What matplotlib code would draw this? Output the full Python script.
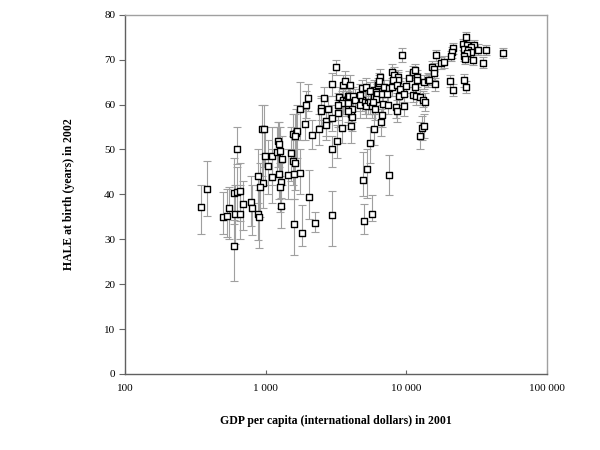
import numpy as np
import matplotlib
matplotlib.use("Agg")
import matplotlib.pyplot as plt
from matplotlib.ticker import FixedLocator, NullLocator

# GDP per capita (international dollars, 2001), HALE at birth 2002 and its uncertainty range
gdp = [345, 381, 500, 528, 551, 598, 628, 653, 603, 660,
       598, 628, 693, 791, 804, 887, 902, 887, 958, 917,
       942, 973, 989, 1039, 1110, 1115, 1230, 1240, 1205, 1265,
       1313, 1245, 1285, 1271, 1285, 1435, 1503, 1553, 1625, 1565,
       1634, 1663, 1625, 1600, 1745, 1745, 1581, 1820, 2042, 2259,
       2976,
       1936, 2011, 1918, 2148, 2377, 2485, 2470, 2612, 2773, 2685,
       2705, 2976, 3177, 2976, 3213, 3283, 3337, 3505, 3563, 3690,
       3573, 3724, 3474, 3268, 3844, 3844, 2964, 4006, 3942, 4177,
       4315, 4043, 4111, 4130, 3879, 4055, 3866, 4864,
       4688, 4688, 4864, 5164, 5082, 5297, 5164, 5521, 5677, 5894,
       5495, 5861, 6086, 6151, 6340, 6400, 6501, 6427, 6053, 5821,
       5957, 6683, 6577, 5861, 5546, 5284, 4955, 5003, 5698, 7498,
       6683, 6973, 7533, 7325, 6823, 7443, 7852, 8210, 8770, 8790,
       8000, 7870, 8590, 9020, 8870, 8510, 8590, 9270, 9620, 9660,
       9990, 10390, 11150, 11520, 11970, 12000, 11430, 11090, 11770, 12570,
       13030, 13570, 13420, 14330, 12820, 13420, 12420,
       15310, 15820, 15750, 16340, 16070, 17730, 18620, 20540, 21470, 21470,
       21230, 20770, 25700, 26670, 26550, 25400, 26800, 30130, 28840, 25820,
       27310, 28680, 32310, 36610, 48260, 26990, 25820, 26000, 29920, 34870,
       14560]

hale = [37.1, 41.1, 34.9, 35.1, 36.9, 40.4, 40.5, 40.7, 35.6, 35.6,
        28.5, 50.1, 37.9, 38.2, 36.9, 35.6, 34.9, 44.0, 42.6, 41.6,
        54.5, 54.5, 48.6, 46.3, 48.6, 43.8, 51.8, 51.2, 49.4, 49.6,
        47.9, 44.6, 42.8, 41.6, 37.3, 44.4, 49.2, 47.5, 47.0, 53.5,
        53.7, 54.1, 52.9, 44.6, 44.8, 59.0, 33.3, 31.4, 39.5, 33.6,
        35.3,
        59.9, 61.4, 55.6, 53.2, 54.5, 59.3, 58.5, 61.4, 58.9, 56.4,
        55.4, 64.5, 68.4, 50.2, 51.8, 58.2, 61.6, 54.8, 64.4, 65.2,
        60.9, 60.7, 60.3, 59.8, 61.9, 58.9, 57.0, 64.3, 62.0, 61.8,
        61.0, 57.8, 57.3, 58.9, 58.6, 55.2, 60.3, 61.0,
        62.2, 59.8, 63.6, 63.9, 60.6, 60.4, 59.6, 60.5, 59.6, 63.2,
        63.0, 61.6, 62.7, 62.4, 64.3, 64.8, 66.2, 65.3, 61.2, 60.5,
        59.0, 57.6, 56.1, 54.5, 51.4, 45.6, 43.3, 34.1, 35.6, 44.4,
        62.4, 63.8, 63.7, 62.4, 60.1, 59.9, 67.3, 66.6, 66.1, 65.5,
        65.5, 63.9, 64.3, 63.4, 61.9, 59.5, 58.6, 71.0, 62.4, 59.7,
        64.2, 65.8, 67.3, 67.6, 66.1, 65.4, 64.0, 62.1, 61.8, 61.7,
        61.1, 60.5, 65.0, 65.5, 54.8, 55.2, 53.0,
        68.4, 67.9, 67.0, 71.0, 64.5, 69.3, 69.5, 65.3, 63.3, 72.5,
        71.6, 70.8, 65.4, 63.9, 75.1, 73.4, 73.2, 73.3, 72.8, 72.4,
        72.1, 71.7, 72.2, 72.1, 71.4, 71.4, 70.8, 70.2, 69.9, 69.3,
        65.5]

hale_low = [31.1, 35.1, 31.1, 30.6, 30.1, 33.5, 35.0, 34.0, 29.0, 30.0,
            20.6, 46.7, 32.0, 33.0, 31.0, 29.8, 28.0, 38.0, 37.0, 35.0,
            44.0, 46.0, 42.0, 40.0, 42.0, 38.0, 46.0, 46.0, 44.0, 44.0,
            42.0, 39.0, 37.0, 36.0, 32.4, 39.0, 43.0, 42.0, 41.0, 48.0,
            48.0, 48.0, 47.0, 39.0, 40.0, 52.0, 26.4, 28.4, 34.5, 31.6,
            28.4,
            57.0, 58.5, 52.0, 50.0, 51.0, 56.5, 55.5, 58.5, 56.0, 53.0,
            52.0, 62.0, 66.5, 46.0, 48.0, 55.0, 59.0, 51.5, 62.0, 63.0,
            58.0, 58.0, 57.5, 56.5, 59.5, 56.0, 54.0, 62.0, 59.5, 59.5,
            58.5, 54.5, 54.0, 56.0, 55.5, 51.5, 57.5, 58.5,
            60.0, 57.0, 61.5, 62.0, 58.0, 58.0, 57.0, 58.0, 57.0, 61.0,
            61.0, 59.5, 60.5, 60.5, 62.5, 63.0, 64.5, 63.5, 59.0, 58.0,
            56.5, 55.0, 53.0, 51.0, 47.0, 39.1, 39.6, 31.1, 34.0, 39.9,
            60.5, 62.0, 62.0, 60.5, 58.0, 58.0, 65.5, 65.0, 64.5, 64.0,
            63.5, 62.0, 62.5, 61.5, 60.0, 57.0, 56.0, 69.5, 60.5, 57.5,
            62.5, 64.0, 66.0, 66.0, 64.5, 64.0, 62.5, 60.5, 60.0, 60.0,
            59.5, 58.5, 63.5, 64.0, 52.0, 52.5, 50.0,
            67.0, 66.5, 65.5, 69.8, 63.0, 68.0, 68.2, 64.0, 62.0, 71.3,
            70.4, 69.6, 64.0, 62.5, 74.0, 72.2, 72.0, 72.2, 71.7, 71.2,
            71.0, 70.6, 71.0, 71.0, 70.3, 70.2, 69.6, 69.0, 68.7, 68.1,
            64.3]

hale_high = [42.0, 47.4, 40.6, 41.2, 41.7, 48.0, 46.0, 47.0, 42.0, 42.0,
             34.3, 55.0, 43.0, 44.0, 42.0, 42.0, 41.0, 50.0, 49.0, 47.0,
             59.8, 60.0, 55.0, 52.0, 55.0, 50.0, 56.0, 56.0, 55.0, 55.0,
             53.0, 50.0, 48.0, 47.0, 39.1, 50.0, 55.0, 53.0, 52.0, 58.0,
             59.0, 60.0, 58.0, 50.0, 50.0, 65.0, 38.9, 37.6, 45.4, 36.0,
             40.8,
             63.0, 64.5, 59.0, 56.5, 58.0, 62.0, 61.5, 64.0, 62.0, 59.5,
             58.5, 67.0, 70.0, 53.0, 55.5, 61.0, 64.0, 58.0, 66.5, 67.5,
             63.5, 63.0, 63.0, 62.5, 64.0, 61.5, 60.0, 66.5, 64.5, 64.0,
             63.5, 61.0, 60.5, 61.5, 61.5, 58.5, 63.0, 63.5,
             64.5, 62.5, 65.5, 66.0, 63.0, 63.0, 62.0, 63.0, 62.0, 65.5,
             65.0, 64.0, 65.0, 64.5, 66.0, 66.5, 68.0, 67.0, 63.5, 63.0,
             61.5, 60.0, 59.0, 58.0, 55.0, 50.0, 49.5, 37.8, 39.8, 48.7,
             64.5, 65.5, 65.5, 64.5, 62.0, 62.0, 69.0, 68.3, 67.8, 67.2,
             67.5, 66.0, 66.0, 65.3, 64.0, 62.0, 61.0, 72.5, 64.5, 62.0,
             66.0, 67.5, 68.6, 69.0, 67.7, 67.0, 65.5, 63.8, 63.5, 63.5,
             63.0, 62.5, 66.5, 67.0, 57.5, 58.0, 56.0,
             69.8, 69.3, 68.5, 72.2, 66.0, 70.6, 70.8, 66.6, 64.6, 73.7,
             72.8, 72.0, 66.8, 65.3, 76.2, 74.6, 74.4, 74.4, 73.9, 73.6,
             73.2, 72.8, 73.4, 73.2, 72.5, 72.6, 72.0, 71.4, 71.1, 70.5,
             66.8]

x_ticks = [100, 1000, 10000, 100000]
x_labels = ["100", "1 000", "10 000", "100 000"]
y_ticks = [0, 10, 20, 30, 40, 50, 60, 70, 80]

gdp = np.array(gdp)
hale = np.array(hale)
yerr = [hale - np.array(hale_low), np.array(hale_high) - hale]

plt.rcParams['font.family'] = ['Liberation Serif', 'DejaVu Serif']

fig = plt.figure(figsize=(6, 4.5), dpi=100)
ax = fig.add_axes([0.2083, 0.1689, 0.7034, 0.7984])

ax.errorbar(gdp, hale, yerr=yerr, fmt='none', ecolor='#a0a0a0',
            elinewidth=0.8, capsize=3, capthick=0.8, zorder=1)
ax.scatter(gdp, hale, marker='s', s=13, facecolors='white',
           edgecolors='black', linewidths=1.0, zorder=2)

ax.set_xscale('log')
ax.set_xlim(100, 100000)
ax.set_ylim(0, 80)
ax.xaxis.set_major_locator(FixedLocator(x_ticks))
ax.xaxis.set_minor_locator(NullLocator())
ax.set_xticklabels(x_labels)
ax.set_yticks(y_ticks)

ax.tick_params(axis='y', direction='out', length=4, width=0.8,
               color='#666666', labelsize=8, pad=3)
ax.tick_params(axis='x', direction='in', length=3, width=0.8,
               color='#666666', labelsize=8, pad=7)

for side in ['left', 'bottom']:
    ax.spines[side].set_color('#606060')
    ax.spines[side].set_linewidth(1.0)
for side in ['top', 'right']:
    ax.spines[side].set_color('#a0a0a0')
    ax.spines[side].set_linewidth(1.0)

ax.set_xlabel('GDP per capita (international dollars) in 2001',
              fontsize=8.5, fontweight='bold', labelpad=16)
ax.set_ylabel('HALE at birth (years) in 2002',
              fontsize=8.5, fontweight='bold', labelpad=21)

fig.savefig('out.png', dpi=100)
